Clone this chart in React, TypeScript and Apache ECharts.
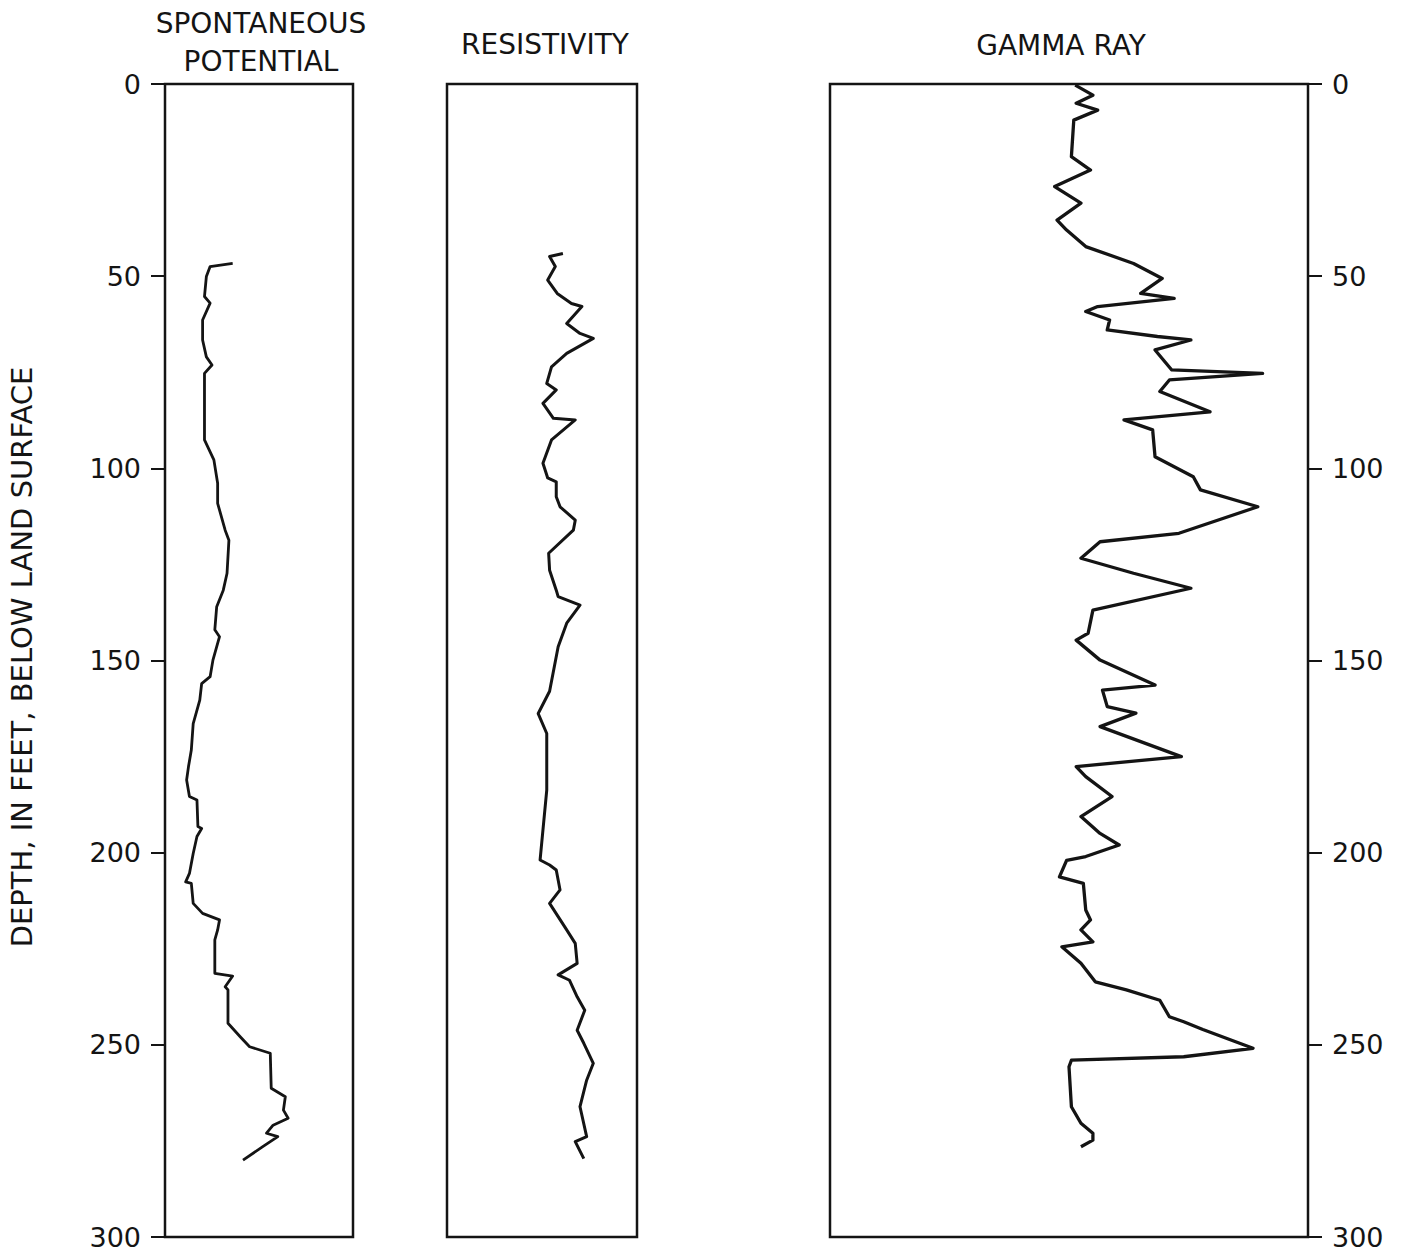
import React, { useEffect, useRef } from "react";
import * as echarts from "echarts";

// Depth ticks (feet below land surface)
const depthTicks = [0, 50, 100, 150, 200, 250, 300];

// Track titles
const titleSP = ["SPONTANEOUS", "POTENTIAL"];
const titleRes = "RESISTIVITY";
const titleGamma = "GAMMA RAY";
const yTitle = "DEPTH, IN FEET, BELOW LAND SURFACE";

// Spontaneous potential (relative deflection, % of track width) vs depth
const spDepth = [46.7, 47.5, 50.1, 55.3, 57, 61.4, 66.6, 71, 73.1, 75.3, 84, 92.6, 97.8, 103.9, 109.1, 116.1, 118.7, 127.3, 131.7, 136, 142, 143.8, 149.9, 154.2, 156, 160.3, 166.4, 173.3, 177.6, 181.1, 185.4, 186.3, 193.2, 193.7, 195.8, 200.2, 205.4, 207.6, 208, 213.2, 215.8, 217.5, 220.1, 222.7, 231.4, 232.1, 234.9, 235.7, 244.4, 247.9, 250.5, 252.2, 261.3, 263.5, 267, 269.1, 270.9, 273, 273.9, 276.5, 280];
const spValue = [36, 24, 22, 21, 24, 20, 20, 22, 25, 21, 21, 21, 26, 28, 28, 32, 34, 33, 31, 27.5, 26.5, 29, 25.5, 24, 19.5, 18.5, 15, 14, 12.5, 11.5, 13, 17, 17.5, 19.5, 17, 15, 13, 11, 14, 15, 20, 29, 28, 26.5, 26.5, 36, 32, 33.5, 33.5, 40, 45, 56, 56.5, 64, 63, 65.5, 57.5, 54, 60, 52, 41.5];

// Resistivity (relative deflection, % of track width) vs depth
const resDepth = [44.1, 44.9, 47.5, 51, 54.5, 57.1, 57.9, 62.3, 64.9, 66.2, 70.1, 73.6, 77.9, 79.6, 83.1, 87, 87.4, 92.6, 98.7, 102.5, 103.5, 107.4, 110, 113.5, 116.1, 122.1, 126.5, 131.7, 133.4, 135.6, 140.3, 146.4, 158, 163.8, 169, 183.7, 201.9, 203.2, 204.5, 209.7, 213.2, 220.1, 223.6, 228.8, 231.8, 233.2, 237.5, 241, 246.2, 249.6, 254.8, 259.2, 266.1, 273.9, 275.2, 279.6];
const resValue = [61, 54, 57, 53, 58, 65.5, 71, 63, 70, 77, 63, 55, 52.5, 57.5, 50.5, 56, 67.5, 55, 50.5, 53, 57.5, 57.5, 59.5, 67.5, 66.5, 53.5, 54, 57.5, 58.5, 70, 63, 58.5, 54, 48, 52.5, 52.5, 49, 54, 57.5, 59.5, 54, 63, 67.5, 68.5, 58.5, 64.5, 68.5, 72.5, 68.5, 72, 77, 73.5, 70, 73.5, 67.5, 72];

// Gamma ray (relative deflection, % of track width) vs depth
const gDepth = [0.3, 2.9, 5, 6.8, 9.4, 18.9, 22.4, 26.7, 31, 35.4, 38, 42.3, 46.7, 50.6, 54.5, 55.8, 57.9, 59.2, 61.4, 64, 65.7, 66.6, 69.2, 74.4, 75.3, 77, 80, 85.3, 87.4, 90, 97, 102.2, 105.6, 110, 116.9, 119.1, 123.4, 127.3, 131.2, 136.9, 142.9, 144.7, 149.9, 156.4, 157.7, 162, 163.7, 167.2, 175, 177.6, 180.2, 185.4, 190.6, 195, 198, 201, 202, 206.3, 208, 214.9, 217.5, 220.1, 223.2, 224.5, 228.8, 233.6, 235.7, 238.4, 242.7, 244, 246, 250.9, 253.1, 254, 255.7, 266.1, 270.4, 273, 274.8, 276.5];
const gValue = [51.3, 55, 51.5, 56, 51, 50.5, 54.5, 47, 52.5, 47.5, 49.5, 53.5, 63.5, 69.5, 65, 72, 56, 53.5, 58.5, 58, 68.5, 75.5, 68, 71.5, 90.5, 71, 69, 79.5, 61.5, 67.5, 68, 76, 77.5, 89.5, 73, 56.5, 52.5, 63.5, 75.5, 55, 54, 51.5, 56.5, 68, 57, 58, 64, 56.5, 73.5, 51.5, 53.5, 59, 52.5, 56.5, 60.5, 53.5, 49.5, 48, 53, 53.5, 54.5, 52.5, 55, 48.5, 52.5, 55.5, 62, 69, 71, 74, 78, 88.5, 74, 50.5, 50, 50.5, 52.5, 55, 55, 52.5];

const FONT = "DejaVu Sans";
const INK = "#141414";

const pairs = (vals: number[], depths: number[]) => vals.map((v, i) => [v, depths[i]]);

export default function App() {
  const ref = useRef<HTMLDivElement>(null);

  useEffect(() => {
    if (!ref.current) return;
    const chart = echarts.init(ref.current, undefined, { renderer: "svg" });

    const gridBase = { top: 84, height: 1153, show: true, borderColor: INK, borderWidth: 2.5, backgroundColor: "transparent" };
    const yBase = {
      type: "value",
      inverse: true,
      min: depthTicks[0],
      max: depthTicks[depthTicks.length - 1],
      interval: 50,
      splitLine: { show: false },
      axisLine: { show: false, onZero: false },
    };
    const labelStyle = { show: true, margin: 24, fontSize: 27, color: INK, fontFamily: FONT };
    const tickStyle = { show: true, inside: false, length: 14, lineStyle: { color: INK, width: 2 } };
    const txt = (text: string, x: number, y: number, size: number, extra: any = {}) => ({
      type: "text",
      x,
      y,
      ...extra,
      style: { text, fontSize: size, fontFamily: FONT, fill: INK, align: "center", verticalAlign: "middle", textAlign: "center", textVerticalAlign: "middle" },
    });

    const option = {
      animation: false,
      backgroundColor: "#fff",
      grid: [
        { ...gridBase, left: 165, width: 188 },
        { ...gridBase, left: 447, width: 190 },
        { ...gridBase, left: 830, width: 478 },
      ],
      xAxis: [0, 1, 2].map((i) => ({ gridIndex: i, type: "value", min: 0, max: 100, show: false })),
      yAxis: [
        { ...yBase, gridIndex: 0, position: "left", axisTick: tickStyle, axisLabel: labelStyle },
        { ...yBase, gridIndex: 1, axisTick: { show: false }, axisLabel: { show: false } },
        { ...yBase, gridIndex: 2, position: "right", axisTick: tickStyle, axisLabel: labelStyle },
      ],
      graphic: [
        txt(titleSP[0], 261, 23, 28),
        txt(titleSP[1], 261, 61, 28),
        txt(titleRes, 545, 44, 28),
        txt(titleGamma, 1061, 45, 28),
        txt(yTitle, 22, 657, 29, { rotation: Math.PI / 2 }),
      ],
      series: [
        { type: "line", xAxisIndex: 0, yAxisIndex: 0, data: pairs(spValue, spDepth), symbol: "none", lineStyle: { color: INK, width: 2.8, join: "round" }, silent: true },
        { type: "line", xAxisIndex: 1, yAxisIndex: 1, data: pairs(resValue, resDepth), symbol: "none", lineStyle: { color: INK, width: 3, join: "round" }, silent: true },
        { type: "line", xAxisIndex: 2, yAxisIndex: 2, data: pairs(gValue, gDepth), symbol: "none", lineStyle: { color: INK, width: 3.3, join: "round" }, silent: true },
      ],
    };

    chart.setOption(option as any);
    return () => chart.dispose();
  }, []);

  return <div ref={ref} style={{ position: "fixed", left: 0, top: 0, width: 1411, height: 1253 }} />;
}
